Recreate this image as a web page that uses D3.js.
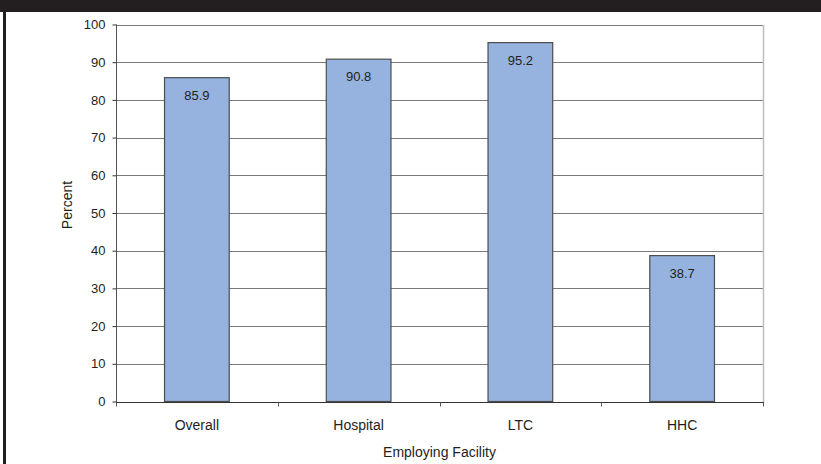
<!DOCTYPE html>
<html>
<head>
<meta charset="utf-8">
<script src="https://cdn.jsdelivr.net/npm/d3@7"></script>
<style>
  html, body { margin: 0; padding: 0; background: #fff; }
  svg { display: block; }
  text { font-family: "Liberation Sans", Arial, sans-serif; fill: #231f20; }
</style>
</head>
<body>
<script>
// Share of respondents by employing facility
const categories = ["Overall", "Hospital", "LTC", "HHC"];
const percents = [85.9, 90.8, 95.2, 38.7];
const yTicks = [0, 10, 20, 30, 40, 50, 60, 70, 80, 90, 100];

const W = 821, H = 464;
const plot = { left: 116, right: 763, top: 24.5, bottom: 401.5 };
const numSize = 13, wordSize = 14;

const svg = d3.select("body").append("svg").attr("width", W).attr("height", H);

// frame: dark top band and left rule
svg.append("rect").attr("x", 0).attr("y", 0).attr("width", W).attr("height", 12).attr("fill", "#231f20");
svg.append("rect").attr("x", 3).attr("y", 0).attr("width", 3).attr("height", H).attr("fill", "#231f20");

const x = d3.scaleBand().domain(categories).range([plot.left, plot.right]).paddingInner(0.6).paddingOuter(0.3);
const y = d3.scaleLinear().domain([0, 100]).range([plot.bottom, plot.top]);

// horizontal gridlines
svg.append("g").selectAll("line").data(yTicks.filter(d => d > 0)).join("line")
  .attr("x1", plot.left).attr("x2", plot.right)
  .attr("y1", d => Math.round(y(d)) + 0.5).attr("y2", d => Math.round(y(d)) + 0.5)
  .attr("stroke", "#7a7a7a").attr("stroke-width", 1);

// right edge of the plot area
svg.append("line").attr("x1", plot.right + 0.5).attr("x2", plot.right + 0.5)
  .attr("y1", Math.round(y(100))).attr("y2", Math.round(y(0)) + 1)
  .attr("stroke", "#bdbdbd").attr("stroke-width", 1.5);

// bars
svg.append("g").selectAll("rect").data(categories).join("rect")
  .attr("x", d => x(d)).attr("width", x.bandwidth())
  .attr("y", (d, i) => y(percents[i])).attr("height", (d, i) => y(0) - y(percents[i]))
  .attr("fill", "#95b3de").attr("stroke", "#4d4d4d").attr("stroke-width", 1.2);

// value labels inside bar tops
svg.append("g").selectAll("text").data(categories).join("text")
  .attr("x", d => x(d) + x.bandwidth() / 2)
  .attr("y", (d, i) => y(percents[i]) + 22)
  .attr("text-anchor", "middle").attr("font-size", numSize)
  .text((d, i) => percents[i].toFixed(1));

// y axis
const yAxis = svg.append("g").attr("transform", `translate(${plot.left + 0.5},0)`)
  .call(d3.axisLeft(y).tickValues(yTicks).tickSize(4).tickPadding(7).tickFormat(d3.format("d")));
yAxis.select(".domain").attr("stroke", "#555").attr("d", `M0,${y(100)}V${y(0) + 1}`);
yAxis.selectAll(".tick line").attr("stroke", "#333");
yAxis.selectAll(".tick text").attr("font-size", numSize).attr("fill", "#231f20")
  .attr("font-family", "'Liberation Sans', Arial, sans-serif");

// x axis with ticks between categories
const xAxisG = svg.append("g").attr("transform", `translate(0,${Math.round(y(0)) + 0.5})`);
xAxisG.append("line").attr("x1", plot.left).attr("x2", plot.right + 1).attr("stroke", "#333");
const boundaries = d3.range(categories.length + 1).map(i => plot.left + i * x.step());
xAxisG.selectAll("line.tk").data(boundaries).join("line").attr("class", "tk")
  .attr("x1", d => Math.round(d) + 0.5).attr("x2", d => Math.round(d) + 0.5)
  .attr("y1", 0).attr("y2", 4).attr("stroke", "#555");
xAxisG.selectAll("text").data(categories).join("text")
  .attr("x", d => x(d) + x.bandwidth() / 2).attr("y", 27)
  .attr("text-anchor", "middle").attr("font-size", wordSize).text(d => d);

// axis titles
svg.append("text").attr("x", (plot.left + plot.right) / 2).attr("y", 457)
  .attr("text-anchor", "middle").attr("font-size", wordSize).text("Employing Facility");
svg.append("text").attr("transform", "translate(72,205) rotate(-90)")
  .attr("text-anchor", "middle").attr("font-size", wordSize).text("Percent");
</script>
</body>
</html>
